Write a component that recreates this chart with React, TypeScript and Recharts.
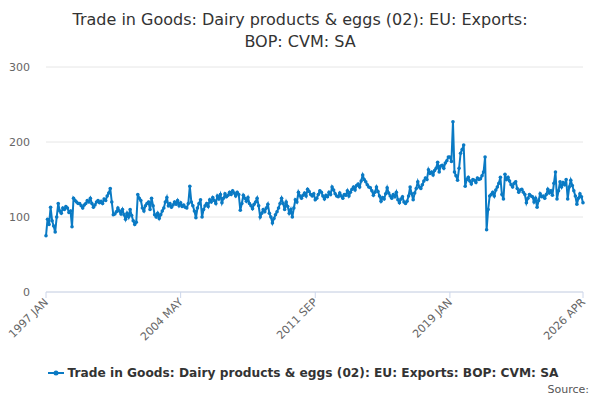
import { LineChart, Line, XAxis, YAxis, CartesianGrid } from "recharts";

const startYear = 1997;
const monthNames = ["JAN", "FEB", "MAR", "APR", "MAY", "JUN", "JUL", "AUG", "SEP", "OCT", "NOV", "DEC"];

// monthly values, 1997 JAN .. 2026 APR
const values1997to2004 = [
  75, 97, 90, 113, 95, 88, 80, 100, 118, 108, 105, 112,
  110, 114, 112, 106, 108, 87, 125, 122, 120, 118, 118, 115,
  112, 116, 118, 122, 120, 125, 118, 113, 116, 120, 122, 119,
  121, 118, 124, 122, 128, 132, 138, 120, 103, 104, 107, 112,
  108, 104, 110, 103, 97, 105, 100, 110, 102, 95, 90, 93,
  130, 125, 122, 112, 108, 115, 118, 120, 110, 125, 115, 103,
  100, 105, 98, 103, 108, 112, 120, 126, 115, 118, 113, 116,
  120, 117, 122, 115, 119, 114, 116, 113, 112, 118, 141, 120,
];
const values2005to2012 = [
  115, 108, 99, 112, 118, 123, 100, 110, 115, 118, 114, 123,
  120, 126, 122, 118, 128, 124, 130, 119, 125, 131, 127, 129,
  133, 130, 135, 132, 128, 133, 130, 109, 118, 129, 125, 121,
  126, 118, 115, 111, 117, 120, 125, 115, 100, 105, 110, 107,
  112, 117, 105, 100, 92, 98, 103, 107, 112, 118, 125, 118,
  110, 120, 114, 105, 110, 100, 112, 123, 120, 133, 128, 125,
  129, 132, 128, 137, 134, 130, 128, 131, 123, 125, 130, 135,
  133, 128, 124, 129, 127, 133, 130, 140, 136, 131, 128, 127,
];
const values2013to2020 = [
  132, 128, 125, 130, 129, 135, 128, 133, 137, 140, 136, 142,
  144, 140, 148, 156, 150, 147, 143, 140, 139, 135, 129, 133,
  140, 134, 128, 121, 126, 124, 131, 139, 132, 128, 125, 130,
  127, 133, 123, 119, 124, 127, 120, 118, 121, 128, 140, 131,
  123, 132, 138, 147, 140, 138, 143, 148, 152, 150, 163, 158,
  160, 156, 162, 165, 173, 160, 168, 169, 165, 172, 175, 180,
  180, 174, 227, 160, 155, 149, 165, 185, 190, 196, 141, 150,
  153, 148, 144, 150, 149, 146, 152, 150, 151, 155, 160, 180,
];
const values2021to2026 = [
  83, 110, 128, 130, 133, 128, 136, 140, 145, 153, 130, 124,
  157, 150, 153, 148, 143, 140, 145, 147, 138, 133, 136, 137,
  133, 130, 119, 125, 130, 128, 127, 120, 125, 113, 122, 131,
  127, 128, 125, 130, 137, 132, 135, 129, 145, 160, 124, 135,
  147, 140, 146, 143, 150, 124, 140, 149, 142, 135, 128, 117,
  125, 131, 127, 119,
];

const values = [...values1997to2004, ...values2005to2012, ...values2013to2020, ...values2021to2026];

const tickLabels = ["1997 JAN", "2004 MAY", "2011 SEP", "2019 JAN", "2026 APR"];
const yTicks = [0, 100, 200, 300];

const seriesName = "Trade in Goods: Dairy products & eggs (02): EU: Exports: BOP: CVM: SA";
const blue = "#0a7ac4";
const font = "'DejaVu Sans', sans-serif";

const data = values.map((v, i) => ({
  idx: i,
  date: `${startYear + Math.floor(i / 12)} ${monthNames[i % 12]}`,
  value: v,
}));

const tickIdx = tickLabels.map((l) => data.findIndex((d) => d.date === l));

const XTick = ({ x, y, payload }: any) => (
  <g transform={`translate(${x},${y})`}>
    <text
      x={0}
      y={0}
      dy={4}
      textAnchor="end"
      transform="rotate(-45)"
      fill="#666"
      fontSize={11}
      fontFamily={font}
    >
      {data[payload.value]?.date}
    </text>
  </g>
);

export default function App() {
  return (
    <div style={{ position: "absolute", left: 0, top: 0, width: 600, height: 400, background: "#fff", fontFamily: font }}>
      <div
        style={{
          position: "absolute",
          top: 9,
          left: 0,
          width: 600,
          textAlign: "center",
          fontSize: 16,
          lineHeight: "22px",
          color: "#333",
        }}
      >
        Trade in Goods: Dairy products &amp; eggs (02): EU: Exports:
        <br />
        BOP: CVM: SA
      </div>

      <LineChart
        width={600}
        height={400}
        data={data}
        margin={{ top: 67, right: 17, bottom: 48, left: 0 }}
      >
        <CartesianGrid vertical={false} stroke="#e6e6e6" />
        <XAxis
          dataKey="idx"
          type="number"
          domain={[0, values.length - 1]}
          ticks={tickIdx}
          interval={0}
          height={60}
          stroke="#ccd6eb"
          tickSize={6}
          tick={<XTick />}
        />
        <YAxis
          domain={[0, 300]}
          ticks={yTicks}
          width={46}
          axisLine={false}
          tickLine={false}
          tickSize={6}
          tickMargin={10}
          tick={{ fill: "#666", fontSize: 11, fontFamily: font }}
        />
        <Line
          type="linear"
          dataKey="value"
          stroke={blue}
          strokeWidth={2}
          dot={{ r: 1.8, fill: blue, stroke: blue, strokeWidth: 0 }}
          isAnimationActive={false}
        />
      </LineChart>

      <div
        style={{
          position: "absolute",
          top: 366,
          left: 2,
          width: 600,
          display: "flex",
          justifyContent: "center",
          alignItems: "center",
          fontSize: 12.2,
          fontWeight: "bold",
          color: "#333",
        }}
      >
        <svg width={20} height={10} style={{ marginRight: 2 }}>
          <line x1={2} y1={5} x2={18} y2={5} stroke={blue} strokeWidth={2} />
          <circle cx={10} cy={5} r={2.5} fill={blue} />
        </svg>
        {seriesName}
      </div>

      <div style={{ position: "absolute", top: 383, right: 11, fontSize: 11, color: "#555" }}>Source:</div>
    </div>
  );
}
